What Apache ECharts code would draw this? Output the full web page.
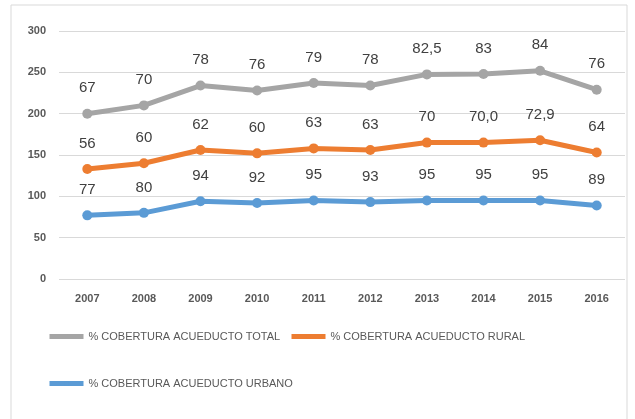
<!DOCTYPE html>
<html>
<head>
    <meta charset="utf-8">
    <title>Cobertura acueducto</title>
    <script src="https://cdn.jsdelivr.net/npm/echarts@6/dist/echarts.min.js"></script>
</head>
<body style="margin:0;padding:0;background:#fff;">
<div id="main" style="margin:0;padding:0;width:635px;height:419px;"></div>
<script type="text/javascript">
    // categorías y valores (etiquetas tal como aparecen en la imagen)
    var years = ['2007', '2008', '2009', '2010', '2011', '2012', '2013', '2014', '2015', '2016'];
    var totalTxt = ['67', '70', '78', '76', '79', '78', '82,5', '83', '84', '76'];
    var ruralTxt = ['56', '60', '62', '60', '63', '63', '70', '70,0', '72,9', '64'];
    var urbanoTxt = ['77', '80', '94', '92', '95', '93', '95', '95', '95', '89'];
    var yTicks = [0, 50, 100, 150, 200, 250, 300];

    var names = ['% COBERTURA ACUEDUCTO TOTAL', '% COBERTURA ACUEDUCTO RURAL', '% COBERTURA ACUEDUCTO URBANO'];
    var colors = ['#A5A5A5', '#ED7D31', '#5B9BD5'];
    var narrow = '"Liberation Sans Narrow", "Liberation Sans", Arial, sans-serif';

    function toNum(s) { return parseFloat(s.replace(',', '.')); }

    function serie(name, txt, color) {
        return {
            name: name,
            type: 'line',
            stack: 'total',
            data: txt.map(toNum),
            symbol: 'circle',
            symbolSize: 10,
            lineStyle: { width: 5, color: color },
            itemStyle: { color: color },
            label: {
                show: true,
                position: 'top',
                distance: 13,
                fontSize: 15,
                color: '#404040',
                fontFamily: 'Arial, "Liberation Sans", sans-serif',
                formatter: function (p) { return txt[p.dataIndex]; }
            },
            animation: false
        };
    }

    var myChart = echarts.init(document.getElementById('main'));

    var legendBase = {
        itemWidth: 34,
        itemHeight: 6,
        lineStyle: { width: 5 },
        textStyle: { fontSize: 11, color: '#595959', fontFamily: narrow },
        itemGap: 20
    };

    var option = {
        backgroundColor: '#ffffff',
        graphic: [{
            type: 'rect',
            shape: { x: 11, y: 5, width: 616, height: 420 },
            style: { fill: 'none', stroke: '#D9D9D9', lineWidth: 1 }
        }],
        grid: { left: 59, right: 10, top: 31, bottom: 140 },
        legend: [
            Object.assign({ left: 42, top: 326, data: [names[0]] }, legendBase),
            Object.assign({ left: 284, top: 326, data: [names[1]] }, legendBase),
            Object.assign({ left: 42, top: 373, data: [names[2]] }, legendBase)
        ],
        xAxis: {
            type: 'category',
            data: years,
            boundaryGap: true,
            axisLine: { show: false },
            axisTick: { show: false },
            axisLabel: { fontSize: 11, color: '#595959', fontFamily: narrow, fontWeight: 'bold', margin: 14 }
        },
        yAxis: {
            type: 'value',
            min: yTicks[0],
            max: yTicks[yTicks.length - 1],
            interval: 50,
            axisLine: { show: false },
            axisTick: { show: false },
            axisLabel: { fontSize: 11, color: '#595959', fontFamily: narrow, fontWeight: 'bold', margin: 13 },
            splitLine: { lineStyle: { color: '#D9D9D9', width: 1 } }
        },
        series: [
            serie(names[2], urbanoTxt, colors[2]),
            serie(names[1], ruralTxt, colors[1]),
            serie(names[0], totalTxt, colors[0])
        ]
    };

    myChart.setOption(option);
</script>
</body>
</html>
